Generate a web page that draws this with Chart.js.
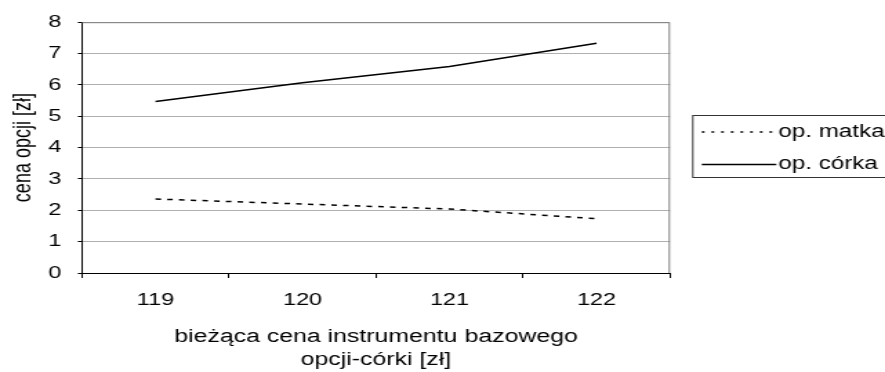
<!DOCTYPE html>
<html>
<head>
<meta charset="utf-8">
<script src="https://cdn.jsdelivr.net/npm/chart.js@4"></script>
<style>
  html, body { margin: 0; padding: 0; background: #fff; overflow: hidden; }
</style>
</head>
<body>
<!-- the reference picture is stretched sideways, so the canvas is drawn narrow and widened -->
<canvas id="optChart" width="641" height="372" style="width:885px;height:372px;display:block"></canvas>
<script>
// data
var prices = ['119', '120', '121', '122'];
var matka = [2.36, 2.2, 2.04, 1.73];
var corka = [5.47, 6.07, 6.59, 7.33];
var seriesNames = ['op. matka', 'op. córka'];
var yTitle = 'cena opcji [zł]';
var xTitle = ['bieżąca cena instrumentu bazowego', 'opcji-córki [zł]'];

var FONT = '"Liberation Sans", Arial, sans-serif';
Chart.defaults.color = '#000';
Chart.defaults.font.family = FONT;

// top and right edge of the plot area
var frame = {
    id: 'frame',
    beforeDatasetsDraw: function (chart) {
        var a = chart.chartArea, ctx = chart.ctx;
        ctx.save();
        ctx.strokeStyle = '#808080';
        ctx.lineWidth = 1;
        ctx.beginPath();
        ctx.moveTo(a.left, a.top + 0.5);
        ctx.lineTo(a.right - 0.5, a.top + 0.5);
        ctx.lineTo(a.right - 0.5, a.bottom);
        ctx.stroke();
        ctx.restore();
    }
};

// boxed legend on the right, cut by the picture edge like the original
var boxLegend = {
    id: 'boxLegend',
    afterDraw: function (chart) {
        var ctx = chart.ctx;
        var x = chart.chartArea.right + 16, y = 115, h = 63;
        ctx.save();
        ctx.strokeStyle = '#333';
        ctx.lineWidth = 1;
        ctx.strokeRect(x + 0.5, y + 0.5, 200, h - 1);
        ctx.font = '17.5px ' + FONT;
        ctx.fillStyle = '#000';
        ctx.textBaseline = 'middle';
        var rows = [132, 164.5];
        chart.data.datasets.forEach(function (ds, i) {
            ctx.strokeStyle = '#000';
            ctx.lineWidth = ds.borderWidth;
            ctx.setLineDash(ds.legendDash || []);
            ctx.beginPath();
            ctx.moveTo(x + 7, rows[i]);
            ctx.lineTo(x + 61, rows[i]);
            ctx.stroke();
            ctx.setLineDash([]);
            ctx.fillText(ds.label, x + 62.5, rows[i]);
        });
        ctx.restore();
    }
};

var ctx = document.getElementById('optChart').getContext('2d');
var myChart = new Chart(ctx, {
    type: 'line',
    data: {
        labels: prices,
        datasets: [{
            label: seriesNames[0],
            data: matka,
            borderColor: '#000',
            borderWidth: 1.5,
            borderDash: [4, 4.5],
            legendDash: [2, 5],
            pointRadius: 0,
            tension: 0
        }, {
            label: seriesNames[1],
            data: corka,
            borderColor: '#000',
            borderWidth: 1.5,
            pointRadius: 0,
            tension: 0
        }]
    },
    options: {
        responsive: false,
        animation: false,
        events: [],
        layout: { padding: { top: 10, right: 155.7, bottom: 0, left: 0 } },
        plugins: {
            legend: { display: false },
            tooltip: { enabled: false }
        },
        scales: {
            x: {
                offset: true,
                grid: {
                    offset: true,
                    drawOnChartArea: false,
                    tickLength: 5,
                    tickColor: '#000'
                },
                border: { color: '#000', width: 1 },
                ticks: { padding: 12, font: { size: 17 } },
                title: {
                    display: true,
                    text: xTitle,
                    font: { size: 18, lineHeight: 1.24 },
                    padding: { top: 0, bottom: 1 }
                },
                afterFit: function (scale) { scale.height = 99; }
            },
            y: {
                min: 0,
                max: 8,
                ticks: { stepSize: 1, padding: 12, font: { size: 17 } },
                grid: {
                    color: '#b0b0b0',
                    tickLength: 3,
                    tickColor: '#000'
                },
                border: { color: '#000', width: 1 },
                title: {
                    display: true,
                    text: yTitle,
                    font: { size: 18 },
                    padding: { top: 6, bottom: 0 }
                },
                afterFit: function (scale) { scale.width = 59.4; }
            }
        }
    },
    plugins: [frame, boxLegend]
});
</script>
</body>
</html>
